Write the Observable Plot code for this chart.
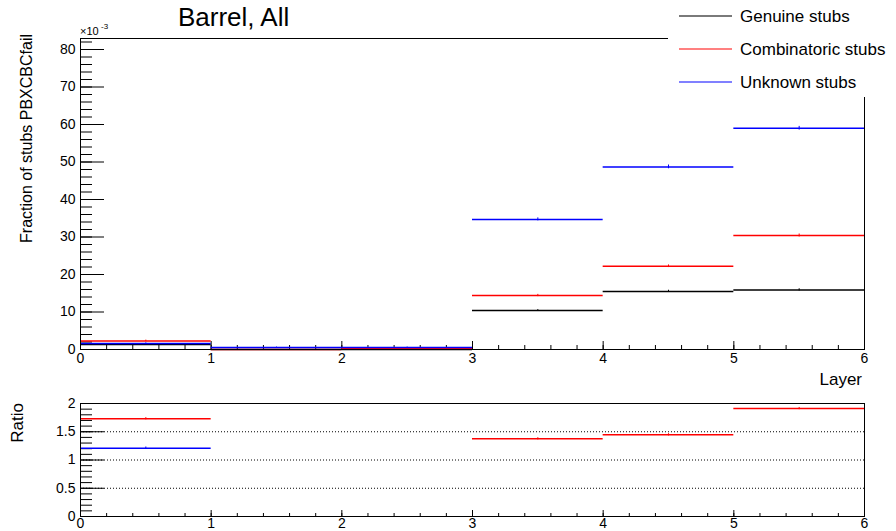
<!DOCTYPE html>
<html><head><meta charset="utf-8">
<script src="https://cdn.jsdelivr.net/npm/d3@7"></script>
<script src="https://cdn.jsdelivr.net/npm/@observablehq/plot@0.6"></script>
<style>
body{margin:0;background:#fff;}
#wrap{position:relative;width:896px;height:531px;overflow:hidden;font-family:"Liberation Sans",Arial,Helvetica,sans-serif;color:#000;background:#fff;}
#wrap svg{position:absolute;left:0;}
.t{position:absolute;white-space:nowrap;}
.leg{position:absolute;height:0;border-top:2px solid;}
</style></head><body><div id="wrap"></div>
<script>
// ---- data (values in units of 1e-3 for the top panel) ----
const layerEdges = [0, 1, 2, 3, 4, 5];
const genuine      = [1.35, 0, 0, 10.4, 15.5, 15.9];
const combinatoric = [2.3, 0, 0.35, 14.4, 22.2, 30.4];
const unknown      = [1.62, 0.55, 0.55, 34.7, 48.7, 59.0];
const genuineErr      = [0.15, 0, 0, 0.25, 0.3, 0.3];
const combinatoricErr = [0.2, 0, 0.1, 0.3, 0.35, 0.4];
const unknownErr      = [0.15, 0.1, 0.1, 0.4, 0.5, 0.5];
const ratioComb    = [1.73, null, null, 1.375, 1.445, 1.91];
const ratioCombErr = [0.02, null, null, 0.02, 0.02, 0.02];
const ratioUnk     = [1.21, null, null, null, null, null];
const ratioUnkErr  = [0.02, null, null, null, null, null];
const seriesNames  = ["Genuine stubs", "Combinatoric stubs", "Unknown stubs"];
const seriesColors = ["#000000", "#ff0000", "#0000ff"];
const legendColors = ["#7a7a7a", "#ff8080", "#8080ff"];
const xTickLabels  = [0, 1, 2, 3, 4, 5, 6];
const yTickLabelsTop   = [0, 10, 20, 30, 40, 50, 60, 70, 80];
const yTickLabelsRatio = [0, 0.5, 1, 1.5, 2];
const ratioGrid = [0.5, 1, 1.5];

// ---- layout ----
const W = 896, mL = 80, mR = 32;
const pw = W - mL - mR;               // 784 px for 6 layers
const pxX = 6 / pw;                   // data units per px along x
const H1 = 395, mT1 = 38, mB1 = 46, ph1 = H1 - mT1 - mB1;
const yMax1 = ph1 / 3.75;             // 80 units -> 300px
const pxY1 = yMax1 / ph1;
const H2 = 141, mT2 = 13, mB2 = 15, ph2 = H2 - mT2 - mB2, top2 = 390;
const pxY2 = 2 / ph2;
const font = '"Liberation Sans", Arial, Helvetica, sans-serif';
const fmt = d => String(d);

const xMajor = d3.range(0, 6.001, 1);
const xMinor = d3.range(0, 6.001, 0.2);
const yMajorTop = d3.range(0, 80.001, 10);
const yMinorTop = d3.range(0, yMax1, 2);
const yMajorR = d3.range(0, 2.001, 0.5);
const yMinorR = d3.range(0, 2.001, 0.1);

function rows(vals, errs) {
  return layerEdges.map((e, i) => ({x1: e, x2: e + 1, xc: e + 0.5, y: vals[i], err: errs[i]}))
    .filter(d => d.y != null);
}
const topSeries = [genuine, combinatoric, unknown].map((v, k) =>
  rows(v, [genuineErr, combinatoricErr, unknownErr][k]));

const topMarks = [];
topSeries.forEach((data, k) => {
  topMarks.push(Plot.ruleY(data, {x1: "x1", x2: "x2", y: "y", stroke: seriesColors[k], strokeWidth: 1.5}));
  topMarks.push(Plot.ruleX(data, {x: "xc", y1: d => d.y - d.err, y2: d => d.y + d.err, stroke: seriesColors[k], strokeWidth: 1}));
});

const mainPlot = Plot.plot({
  width: W, height: H1, marginLeft: mL, marginRight: mR, marginTop: mT1, marginBottom: mB1,
  style: {fontFamily: font, fontSize: "14px", color: "#000", background: "transparent", overflow: "visible"},
  x: {domain: [0, 6]},
  y: {domain: [0, yMax1]},
  marks: [
    Plot.ruleY(yMinorTop, {y: d => d, x1: 0, x2: 12 * pxX, stroke: "#000", strokeWidth: 1}),
    Plot.ruleY(yMajorTop, {y: d => d, x1: 0, x2: 24 * pxX, stroke: "#000", strokeWidth: 1}),
    Plot.ruleX(xMinor, {x: d => d, y1: 0, y2: 4 * pxY1, stroke: "#000"}),
    Plot.ruleX(xMajor, {x: d => d, y1: 0, y2: 8 * pxY1, stroke: "#000"}),
    Plot.axisY({ticks: yTickLabelsTop, tickFormat: fmt, tickSize: 0, tickPadding: 5, label: null}),
    Plot.axisX({ticks: xTickLabels, tickFormat: fmt, tickSize: 0, tickPadding: 4, label: null}),
    ...topMarks,
    Plot.frame({stroke: "#000", strokeWidth: 1})
  ]
});
mainPlot.style.top = "0px";

const rC = rows(ratioComb, ratioCombErr), rU = rows(ratioUnk, ratioUnkErr);
const ratioPlot = Plot.plot({
  width: W, height: H2, marginLeft: mL, marginRight: mR, marginTop: mT2, marginBottom: mB2,
  style: {fontFamily: font, fontSize: "14px", color: "#000", background: "transparent", overflow: "visible"},
  x: {domain: [0, 6]},
  y: {domain: [0, 2]},
  marks: [
    Plot.ruleY(ratioGrid, {y: d => d, stroke: "#000", strokeDasharray: "1,2", strokeWidth: 1}),
    Plot.ruleY(yMinorR, {y: d => d, x1: 0, x2: 12 * pxX, stroke: "#000"}),
    Plot.ruleY(yMajorR, {y: d => d, x1: 0, x2: 24 * pxX, stroke: "#000"}),
    Plot.ruleX(xMinor, {x: d => d, y1: 0, y2: 3 * pxY2, stroke: "#000"}),
    Plot.ruleX(xMajor, {x: d => d, y1: 0, y2: 6 * pxY2, stroke: "#000"}),
    Plot.axisY({ticks: yTickLabelsRatio, tickFormat: fmt, tickSize: 0, tickPadding: 5, label: null}),
    Plot.axisX({ticks: xTickLabels, tickFormat: fmt, tickSize: 0, tickPadding: 2, label: null}),
    Plot.ruleY(rU, {x1: "x1", x2: "x2", y: "y", stroke: seriesColors[2], strokeWidth: 1.5}),
    Plot.ruleX(rU, {x: "xc", y1: d => d.y - d.err, y2: d => d.y + d.err, stroke: seriesColors[2]}),
    Plot.ruleY(rC, {x1: "x1", x2: "x2", y: "y", stroke: seriesColors[1], strokeWidth: 1.5}),
    Plot.ruleX(rC, {x: "xc", y1: d => d.y - d.err, y2: d => d.y + d.err, stroke: seriesColors[1]}),
    Plot.frame({stroke: "#000", strokeWidth: 1})
  ]
});
ratioPlot.style.top = top2 + "px";

const wrap = document.getElementById("wrap");
wrap.appendChild(mainPlot);
wrap.appendChild(ratioPlot);

function addText(txt, css) {
  const d = document.createElement("div");
  d.className = "t";
  d.textContent = txt;
  Object.assign(d.style, css);
  wrap.appendChild(d);
  return d;
}
// title
addText("Barrel, All", {left: "178px", top: "4px", fontSize: "26px", lineHeight: "26px"});
// exponent
addText("\u00d710", {left: "80px", top: "26px", fontSize: "11px", lineHeight: "11px"});
addText("-3", {left: "101px", top: "23px", fontSize: "8px", lineHeight: "8px"});
// axis titles
addText("Fraction of stubs PBXCBCfail", {left: "27px", top: "34px", fontSize: "16px", lineHeight: "16px",
  transformOrigin: "0 0", transform: "rotate(-90deg) translate(-100%, -50%)"});
addText("Ratio", {left: "17px", top: "403px", fontSize: "17px", lineHeight: "17px",
  transformOrigin: "0 0", transform: "rotate(-90deg) translate(-100%, -50%)"});
addText("Layer", {right: "34px", top: "371px", fontSize: "17px", lineHeight: "17px", textAlign: "right"});

// legend
const leg = document.createElement("div");
Object.assign(leg.style, {position: "absolute", left: "668px", top: "0px", width: "228px", height: "97px", background: "#fff"});
wrap.appendChild(leg);
const legY = [16, 49, 82];
seriesNames.forEach((name, k) => {
  const l = document.createElement("div");
  l.className = "leg";
  Object.assign(l.style, {left: "679px", width: "53px", top: (legY[k] - 1) + "px", borderTopColor: legendColors[k]});
  wrap.appendChild(l);
  addText(name, {left: "740px", top: (legY[k] - 8.5) + "px", fontSize: "17px", lineHeight: "17px"});
});
</script></body></html>
